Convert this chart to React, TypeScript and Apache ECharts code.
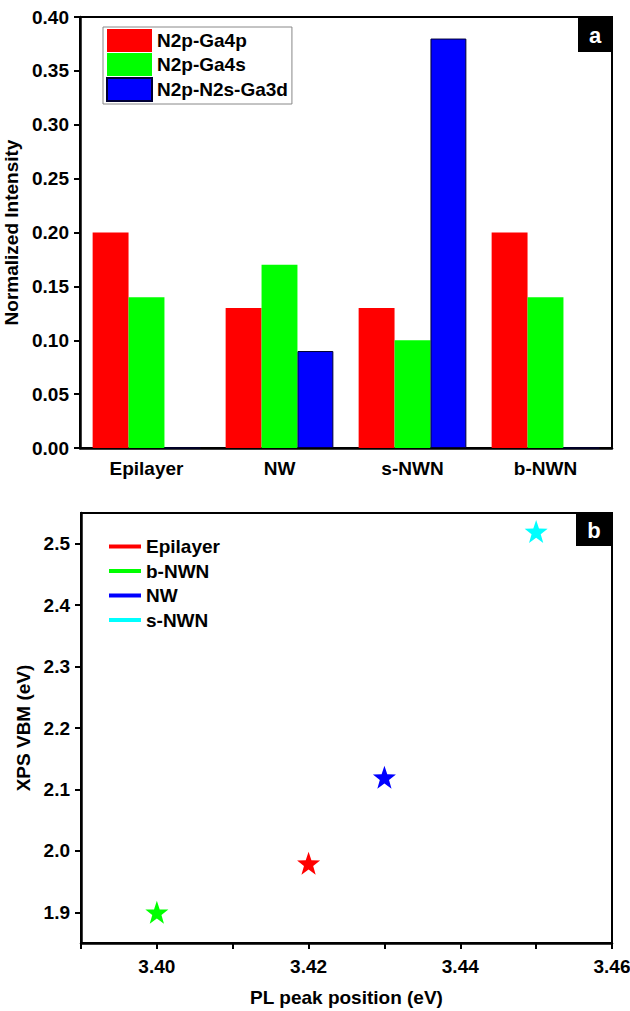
import React, { useEffect, useRef } from "react";
import * as echarts from "echarts";

const categories = ["Epilayer", "NW", "s-NWN", "b-NWN"];
const seriesNamesA = ["N2p-Ga4p", "N2p-Ga4s", "N2p-N2s-Ga3d"];
const ga4p = [0.2, 0.13, 0.13, 0.2];
const ga4s = [0.14, 0.17, 0.1, 0.14];
const ga3d = [0, 0.09, 0.38, 0];
const yTicksA = [0, 0.05, 0.1, 0.15, 0.2, 0.25, 0.3, 0.35, 0.4];

const samples = ["Epilayer", "b-NWN", "NW", "s-NWN"];
const plPeak = [3.42, 3.4, 3.43, 3.45];
const vbm = [1.98, 1.9, 2.12, 2.52];
const xTicksB = [3.39, 3.4, 3.41, 3.42, 3.43, 3.44, 3.45, 3.46];
const xLabelsB = [3.4, 3.42, 3.44, 3.46];
const yTicksB = [1.9, 2.0, 2.1, 2.2, 2.3, 2.4, 2.5];

const barColors = ["#ff0000", "#00ff00", "#0000ff"];
const starColors = ["#ff0000", "#00ff00", "#0000ff", "#00ffff"];

function starPath(): string {
  const pts: string[] = [];
  for (let i = 0; i < 10; i++) {
    const r = i % 2 === 0 ? 10 : 4;
    const a = -Math.PI / 2 + (i * Math.PI) / 5;
    pts.push(`${(r * Math.cos(a)).toFixed(3)} ${(r * Math.sin(a)).toFixed(3)}`);
  }
  return "path://M" + pts.join(" L") + " Z";
}

const FONT = "Liberation Sans";

export default function App() {
  const ref = useRef<HTMLDivElement>(null);
  useEffect(() => {
    if (!ref.current) return;
    const chart = echarts.init(ref.current, null, { renderer: "svg" });
    const star = starPath();
    const barData = [ga4p, ga4s, ga3d];
    const txt = { fontFamily: FONT, fontWeight: "bold" as const, color: "#000" };
    const option: any = {
      animation: false,
      backgroundColor: "#fff",
      textStyle: { fontFamily: FONT },
      grid: [
        {
          left: 80, right: 18, top: 17, bottom: 563,
          show: true, borderColor: "#000", borderWidth: 2,
          outerBoundsMode: "none",
        },
        {
          left: 81, right: 18, top: 513, bottom: 68,
          show: true, borderColor: "#000", borderWidth: 2,
          outerBoundsMode: "none",
        },
      ],
      legend: [
        {
          left: 103, top: 27, orient: "vertical",
          padding: [2, 4, 2, 3], itemGap: 1,
          itemWidth: 45, itemHeight: 23, itemTextGap: 5,
          borderColor: "#888", borderWidth: 1,
          icon: "rect",
          data: seriesNamesA,
          textStyle: { ...txt, fontSize: 19 },
        },
        {
          left: 109, top: 537, orient: "vertical",
          padding: 0, itemGap: 5.5,
          itemWidth: 32, itemHeight: 4, itemTextGap: 18,
          icon: "rect",
          data: samples,
          textStyle: { ...txt, fontSize: 19, lineHeight: 17 },
        },
      ],
      xAxis: [
        {
          gridIndex: 0, type: "category", data: categories,
          axisLine: { lineStyle: { color: "#000", width: 2.5 } },
          axisTick: { show: false },
          axisLabel: { ...txt, fontSize: 19, margin: 11 },
        },
        {
          gridIndex: 1, type: "value", min: 3.39, max: 3.46,
          axisLine: { onZero: false, lineStyle: { color: "#000", width: 2.5 } },
          axisTick: { show: true, length: 6, lineStyle: { width: 2, color: "#000" }, customValues: xTicksB },
          axisLabel: {
            ...txt, fontSize: 19, margin: 14,
            customValues: xLabelsB,
            formatter: (v: number) => v.toFixed(2),
          },
          splitLine: { show: false },
          name: "PL peak position (eV)", nameLocation: "middle", nameGap: 45,
          nameTextStyle: { ...txt, fontSize: 19 },
        },
      ],
      yAxis: [
        {
          gridIndex: 0, type: "value", min: 0, max: 0.4, interval: 0.05,
          axisLine: { show: true, lineStyle: { color: "#000", width: 2.5 } },
          axisTick: { show: true, length: 6, lineStyle: { width: 2, color: "#000" }, customValues: yTicksA },
          axisLabel: { ...txt, fontSize: 19, margin: 11, formatter: (v: number) => v.toFixed(2) },
          splitLine: { show: false },
          name: "Normalized Intensity", nameLocation: "middle", nameGap: 52,
          nameTextStyle: { ...txt, fontSize: 19 },
        },
        {
          gridIndex: 1, type: "value", min: 1.85, max: 2.55,
          axisLine: { show: true, onZero: false, lineStyle: { color: "#000", width: 2.5 } },
          axisTick: { show: true, length: 6, lineStyle: { width: 2, color: "#000" }, customValues: yTicksB },
          axisLabel: {
            ...txt, fontSize: 19, margin: 11,
            customValues: yTicksB,
            formatter: (v: number) => v.toFixed(1),
          },
          splitLine: { show: false },
          name: "XPS VBM (eV)", nameLocation: "middle", nameGap: 40,
          nameTextStyle: { ...txt, fontSize: 19 },
        },
      ],
      series: [
        ...seriesNamesA.map((name, i) => ({
          name, type: "bar", xAxisIndex: 0, yAxisIndex: 0,
          data: barData[i],
          barGap: "0%", barCategoryGap: "19%",
          itemStyle: {
            color: barColors[i],
            borderColor: i === 2 ? "#000033" : barColors[i],
            borderWidth: i === 2 ? 1 : 0,
          },
        })),
        ...samples.map((name, i) => ({
          name, type: "scatter", xAxisIndex: 1, yAxisIndex: 1,
          data: [[plPeak[i], vbm[i]]],
          symbol: star, symbolSize: 23,
          itemStyle: { color: starColors[i], opacity: 1 },
        })),
      ],
      graphic: [
        { type: "rect", shape: { x: 578, y: 17, width: 34, height: 35 }, style: { fill: "#000" }, z: 100 },
        { type: "text", x: 595, y: 35, style: { text: "a", fill: "#fff", font: `bold 22px ${FONT}`, textAlign: "center", textVerticalAlign: "middle" }, z: 101 },
        { type: "rect", shape: { x: 576, y: 513, width: 36, height: 33 }, style: { fill: "#000" }, z: 100 },
        { type: "text", x: 594, y: 530, style: { text: "b", fill: "#fff", font: `bold 22px ${FONT}`, textAlign: "center", textVerticalAlign: "middle" }, z: 101 },
      ],
    };
    chart.setOption(option);
    return () => chart.dispose();
  }, []);
  return (
    <div
      ref={ref}
      style={{ position: "absolute", left: 0, top: 0, width: 630, height: 1011 }}
    />
  );
}
